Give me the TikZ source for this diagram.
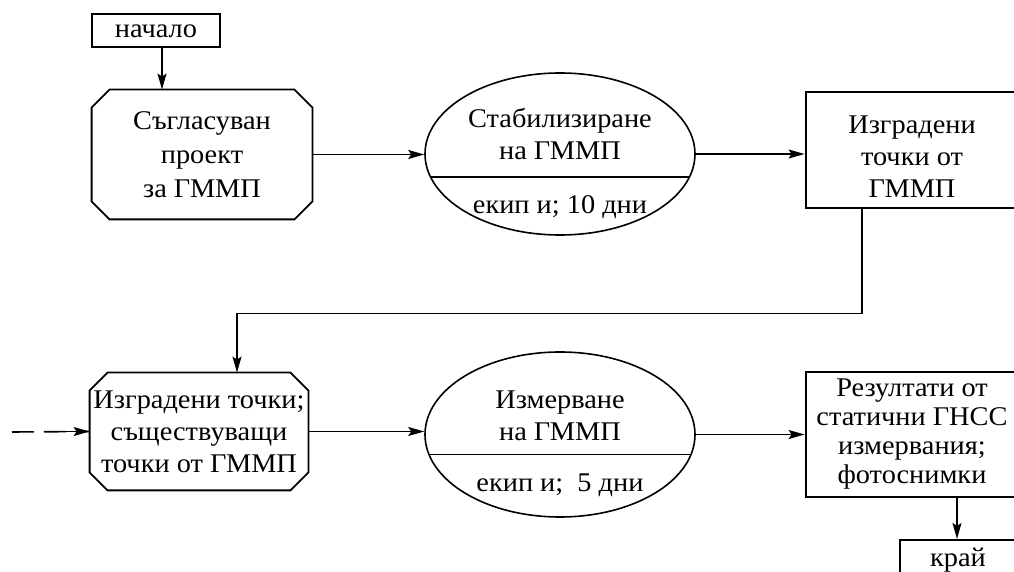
\documentclass[tikz,border=0pt]{standalone}
\usepackage{fontspec}
\setmainfont{Liberation Serif}[FakeStretch=1.05]
\usetikzlibrary{shapes.geometric,arrows.meta,calc}
% octagonal frame drawn around a rectangular node, corners cut by #2
\newcommand\octframe[2]{%
  \draw[line width=0.9pt]
    ([xshift=#2]#1.north west) -- ([xshift=-#2]#1.north east)
    -- ([yshift=-#2]#1.north east) -- ([yshift=#2]#1.south east)
    -- ([xshift=-#2]#1.south east) -- ([xshift=#2]#1.south west)
    -- ([yshift=#2]#1.south west) -- ([yshift=-#2]#1.north west) -- cycle;}
\begin{document}
\begin{tikzpicture}[x=0.5pt,y=-0.5pt,
  every node/.style={font=\fontsize{13.5}{16}\selectfont, align=center, inner sep=0pt},
  termbox/.style={draw, line width=1pt, minimum width=64pt, minimum height=16.5pt},
  octbox/.style={rectangle, minimum width=110pt},
  procell/.style={ellipse, draw, line width=0.8pt, minimum width=135pt},
  resbox/.style={draw, line width=1.4pt, minimum width=106pt},
  arr/.style={line width=0.8pt, -{Stealth[length=8pt,width=4.5pt,inset=1.5pt]}},
]
\useasboundingbox (0,0) rectangle (1014,572);
\clip (0,0) rectangle (1014,572);

% first row
\node[termbox] (start) at (156,31) {начало};
\node[octbox, minimum height=64.5pt, font=\fontsize{13.5}{17}\selectfont] (oct1) at (202,154.5)
  {Съгласуван\\проект\\за ГММП};
\octframe{oct1}{9pt}
\node[procell, minimum height=81pt] (e1) at (560,154) {};
\draw[line width=0.8pt] (e1.190) -- (e1.350);
\node (e1top) at (560,134) {Стабилизиране\\на ГММП};
\node (e1bot) at (560,207) {екип и; 10 дни};
\node[resbox, minimum height=58pt] (box3) at (912,150) {};
\node (box3txt) at (912,157) {Изградени\\точки от\\ГММП};

% second row
\node[octbox, minimum height=58.5pt, minimum width=109pt] (oct2) at (199,431.5)
  {Изградени точки;\\съществуващи\\точки от ГММП};
\octframe{oct2}{9pt}
\node[procell, minimum height=82.5pt] (e2) at (560,434.5) {};
\draw[line width=0.8pt] ($(e2.center)+(-131,20)$) -- ($(e2.center)+(131,20)$);
\node (e2top) at (560,416) {Измерване\\на ГММП};
\node (e2bot) at (560,485) {екип и;\ \ 5 дни};
\node[resbox, minimum height=62.5pt, font=\fontsize{13.5}{14.5}\selectfont] (box4) at (912,434.5)
  {Резултати от\\статични ГНСС\\измервания;\\фотоснимки};
\node[termbox, minimum width=58pt, minimum height=20pt] (stop) at (958,560) {край};
\coordinate (feed) at (12,432);

% connectors
\draw[arr] ([xshift=3pt]start.south) -- ([xshift=3pt]start.south |- oct1.north);
\draw[arr] (oct1.east) -- (oct1.east -| e1.west);
\draw[arr] (e1.east) -- (e1.east -| box3.west);
\draw[arr] ([xshift=-25pt]box3.south) -- ++(0,104) -| ([xshift=19pt]oct2.north);
\draw[line width=0.8pt, dash pattern=on 11pt off 5pt] (feed) -- (oct2.west);
\draw[arr] ($(oct2.west)+(-46,0)$) -- (oct2.west);
\draw[arr] (oct2.east) -- (oct2.east -| e2.west);
\draw[arr] (e2.east) -- (e2.east -| box4.west);
\draw[arr] ([xshift=22.5pt]box4.south) -- ([xshift=22.5pt]box4.south |- stop.north);
\end{tikzpicture}
\end{document}
